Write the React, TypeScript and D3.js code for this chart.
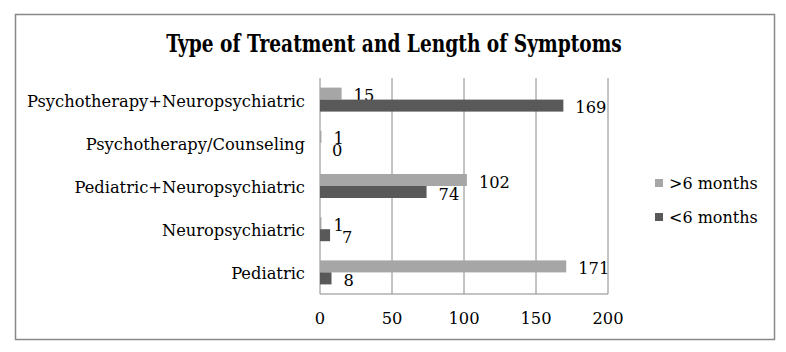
import React from "react";
import * as d3 from "d3";

const categories = [
  "Psychotherapy+Neuropsychiatric",
  "Psychotherapy/Counseling",
  "Pediatric+Neuropsychiatric",
  "Neuropsychiatric",
  "Pediatric",
];
const seriesNames = [">6 months", "<6 months"];
const overSix = [15, 1, 102, 1, 171];
const underSix = [169, 0, 74, 7, 8];
const xTicks = [0, 50, 100, 150, 200];
const colors = ["#a6a6a6", "#595959"];
const title = "Type of Treatment and Length of Symptoms";

export default function App() {
  const W = 786, H = 352;
  const left = 320, right = 608, top = 78, bottom = 294;
  const x = d3.scaleLinear().domain([0, 200]).range([left, right]);
  const y = d3.scaleBand().domain(categories).range([top, bottom]);
  const series = [overSix, underSix];
  const barH = 12;
  const font = "'DejaVu Serif', serif";
  const fs = 16.3;
  return (
    <svg width={W} height={H} style={{ position: "absolute", left: 0, top: 0, background: "#fff" }}>
      <rect x={15.5} y={14.5} width={759} height={325} fill="#fff" stroke="#888" strokeWidth={1.5} />
      <g transform="translate(394,52) scale(1,1.25)">
        <text x={0} y={0} textAnchor="middle" fontFamily={font} fontWeight="bold" fontSize={18.6}>{title}</text>
      </g>
      {xTicks.map((t) => (
        <line key={t} x1={x(t)} x2={x(t)} y1={top} y2={bottom} stroke="#888" strokeWidth={1} />
      ))}
      <line x1={left} x2={right} y1={bottom} y2={bottom} stroke="#888" />
      {series.map((vals, si) =>
        categories.map((c, ci) => {
          const cy = (y(c) as number) + y.bandwidth() / 2;
          const by = cy - barH + si * barH;
          const w = x(vals[ci]) - x(0);
          return (
            <g key={si + "-" + ci}>
              <rect x={x(0)} y={by} width={Math.max(w, 0)} height={barH} fill={colors[si]} />
              <text x={x(vals[ci]) + 12} y={by + barH / 2 + 7.5} fontFamily={font} fontSize={fs}>{vals[ci]}</text>
            </g>
          );
        })
      )}
      {categories.map((c) => (
        <text key={c} x={305} y={(y(c) as number) + y.bandwidth() / 2 + 7} textAnchor="end" fontFamily={font} fontSize={fs}>{c}</text>
      ))}
      {xTicks.map((t) => (
        <text key={"l" + t} x={x(t)} y={324} textAnchor="middle" fontFamily={font} fontSize={fs}>{t}</text>
      ))}
      {seriesNames.map((s, i) => (
        <g key={s}>
          <rect x={655} y={179 + i * 34} width={8} height={8} fill={colors[i]} />
          <text x={669} y={189 + i * 34} fontFamily={font} fontSize={16}>{s}</text>
        </g>
      ))}
    </svg>
  );
}
